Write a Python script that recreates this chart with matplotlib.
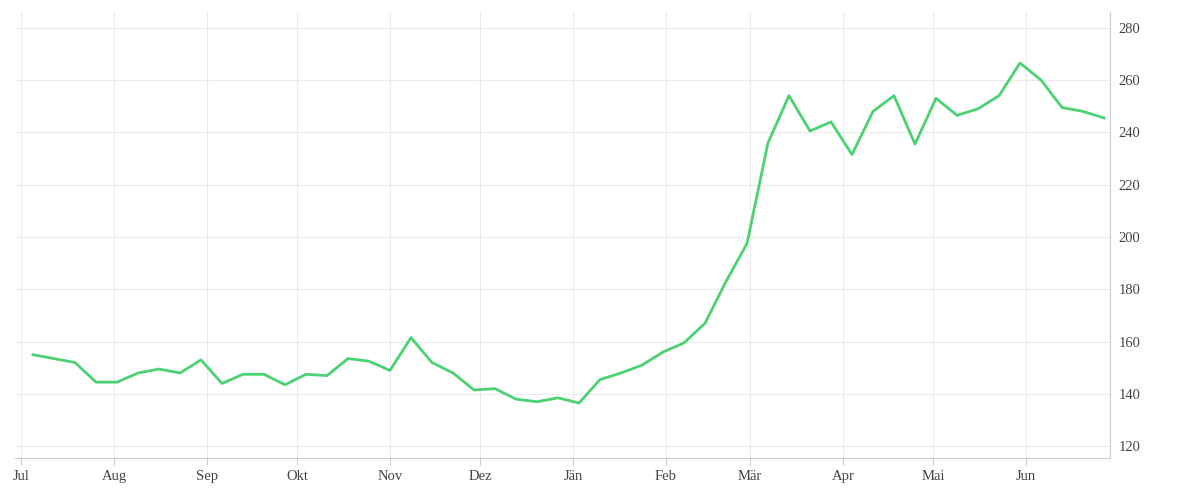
import matplotlib
matplotlib.use("Agg")
import matplotlib.pyplot as plt
import pandas as pd

start = "2020-07-05"
values = [155, 153.5, 152, 144.5, 144.5, 148, 149.5, 148, 153, 144, 147.5, 147.5, 143.5,
          147.5, 147, 153.5, 152.5, 149, 161.5, 152, 148, 141.5, 142, 138, 137, 138.5,
          136.5, 145.5, 148, 151, 156, 159.5, 167, 183, 197.5, 236, 254, 240.5, 244,
          231.5, 248, 254, 235.5, 253, 246.5, 249, 254, 266.5, 260, 249.5, 248, 245.5]
dates = pd.date_range(start, periods=len(values), freq="7D")
month_labels = ["Jul", "Aug", "Sep", "Okt", "Nov", "Dez", "Jän", "Feb", "Mär", "Apr", "Mai", "Jun"]
month_ticks = pd.date_range("2020-07-01", periods=12, freq="MS")
yticks = [120, 140, 160, 180, 200, 220, 240, 260, 280]

plt.rcParams['font.family'] = ['Liberation Serif', 'DejaVu Serif']
fig = plt.figure(figsize=(12, 5), dpi=100)
ax = fig.add_axes([0.0125, 0.084, 0.9125, 0.892])
ax.plot(dates, values, color="#4cd173", lw=2.0)
ax.set_xlim(pd.Timestamp("2020-06-29"), pd.Timestamp("2021-06-29"))
ax.set_ylim(115.5, 286)
ax.set_xticks(month_ticks)
ax.set_xticklabels(month_labels)
ax.set_yticks(yticks)
ax.yaxis.tick_right()
ax.grid(True, color="#ebebeb", lw=0.8)
for s in ["top", "left"]:
    ax.spines[s].set_visible(False)
ax.spines["bottom"].set_color("#cccccc")
ax.spines["right"].set_color("#cccccc")
ax.tick_params(axis="both", colors="#cccccc", labelcolor="#444444", labelsize=10.5, length=5)
ax.tick_params(axis="y", length=0, pad=6)
fig.savefig("out.png")
